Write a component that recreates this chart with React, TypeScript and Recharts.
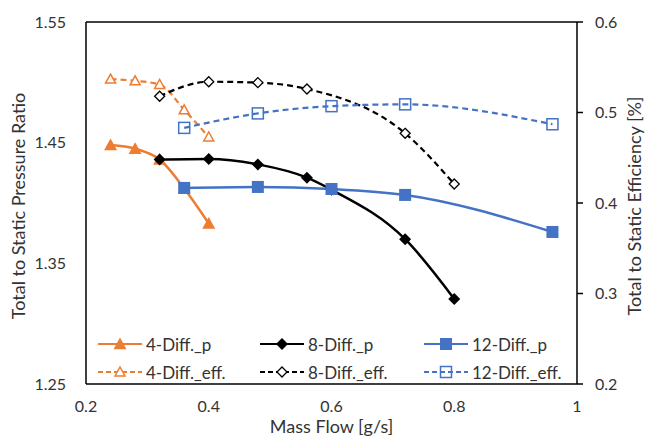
import React from 'react';
import { LineChart, Line, XAxis, YAxis, ReferenceLine, Label } from 'recharts';

// mass flow [g/s]
const flow4 = [0.24, 0.28, 0.32, 0.36, 0.4];
const flow8p = [0.32, 0.4, 0.48, 0.56, 0.6, 0.72, 0.8];
const flow8eff = [0.32, 0.4, 0.48, 0.56, 0.72, 0.8];
const flow12 = [0.36, 0.48, 0.6, 0.72, 0.96];

// total to static pressure ratio
const p4 = [1.448, 1.445, 1.436, 1.412, 1.383];
const p8 = [1.436, 1.4365, 1.432, 1.421, 1.411, 1.37, 1.3205];
const p12 = [1.4125, 1.4133, 1.4116, 1.4067, 1.376];

// total to static efficiency
const eff4 = [0.537, 0.535, 0.531, 0.503, 0.473];
const eff8 = [0.518, 0.534, 0.533, 0.526, 0.477, 0.421];
const eff12 = [0.483, 0.499, 0.507, 0.509, 0.487];

const xTicks = [0.2, 0.4, 0.6, 0.8, 1];
const leftTicks = [1.25, 1.35, 1.45, 1.55];
const rightTicks = [0.2, 0.3, 0.4, 0.5, 0.6];

const ORANGE = '#ED7D31';
const BLACK = '#000000';
const BLUE = '#4472C4';
const TEXT = '#333333';
const FONT = 'Lato, "Open Sans", sans-serif';

const rows = (xs: number[], ys: number[]) => xs.map((x, i) => ({ x, y: ys[i] }));

type Shape = 'tri' | 'diamond' | 'square';

const Marker = ({ shape, filled, color, cx, cy }: { shape: Shape; filled: boolean; color: string; cx: number; cy: number }) => {
  const fill = filled ? color : shape === 'square' ? 'none' : '#ffffff';
  const sw = filled ? 0 : 1.5;
  if (shape === 'tri') {
    const r = filled ? 6.5 : 5;
    return (
      <polygon
        points={`${cx},${cy - r} ${cx - r},${cy + r * 0.8} ${cx + r},${cy + r * 0.8}`}
        fill={fill}
        stroke={color}
        strokeWidth={sw}
      />
    );
  }
  if (shape === 'diamond') {
    const r = filled ? 6 : 5;
    return (
      <polygon
        points={`${cx},${cy - r} ${cx + r},${cy} ${cx},${cy + r} ${cx - r},${cy}`}
        fill={fill}
        stroke={color}
        strokeWidth={filled ? 0 : 1.3}
      />
    );
  }
  const s = filled ? 12 : 11;
  return <rect x={cx - s / 2} y={cy - s / 2} width={s} height={s} fill={fill} stroke={color} strokeWidth={sw} />;
};

const dotFor = (shape: Shape, filled: boolean, color: string) => (props: any) => (
  <Marker key={`${shape}-${filled}-${props.index}`} shape={shape} filled={filled} color={color} cx={props.cx} cy={props.cy} />
);

const series = [
  { name: '4-Diff._p', color: ORANGE, shape: 'tri' as Shape, filled: true },
  { name: '8-Diff._p', color: BLACK, shape: 'diamond' as Shape, filled: true },
  { name: '12-Diff._p', color: BLUE, shape: 'square' as Shape, filled: true },
  { name: '4-Diff._eff.', color: ORANGE, shape: 'tri' as Shape, filled: false },
  { name: '8-Diff._eff.', color: BLACK, shape: 'diamond' as Shape, filled: false },
  { name: '12-Diff._eff.', color: BLUE, shape: 'square' as Shape, filled: false },
];

const DASH = '6 4';

const ChartLegend = () => (
  <div
    style={{
      position: 'absolute',
      left: 97,
      top: 330,
      display: 'grid',
      gridTemplateColumns: '162px 164px 170px',
      gridAutoRows: '28px',
      fontFamily: FONT,
      fontSize: 17,
      color: TEXT,
    }}
  >
    {series.map((s) => (
      <div key={s.name} style={{ display: 'flex', alignItems: 'center' }}>
        <svg width={46} height={16} style={{ marginRight: 3 }}>
          <line
            x1={1}
            x2={45}
            y1={8}
            y2={8}
            stroke={s.color}
            strokeWidth={2.2}
            strokeDasharray={s.filled ? undefined : '5 3'}
          />
          <Marker shape={s.shape} filled={s.filled} color={s.color} cx={23} cy={8} />
        </svg>
        <span>{s.name}</span>
      </div>
    ))}
  </div>
);

const tickStyle = { fill: TEXT, fontSize: 16, fontFamily: FONT };

const vLabel = (text: string, x: number) => ({ viewBox }: any) => {
  const cy = viewBox.y + viewBox.height / 2 + 3;
  return (
    <text
      x={x}
      y={cy}
      transform={`rotate(-90, ${x}, ${cy})`}
      textAnchor="middle"
      dominantBaseline="central"
      fill={TEXT}
      fontSize={18}
      fontFamily={FONT}
    >
      {text}
    </text>
  );
};

const xLabel = ({ viewBox }: any) => (
  <text
    x={viewBox.x + viewBox.width / 2}
    y={433}
    textAnchor="middle"
    fill={TEXT}
    fontSize={18}
    fontFamily={FONT}
  >
    Mass Flow [g/s]
  </text>
);

export default function App() {
  return (
    <div style={{ position: 'absolute', left: 0, top: 0, width: 646, height: 438, background: '#fff', overflow: 'hidden' }}>
      <LineChart width={646} height={438} margin={{ top: 22, right: 0, left: 0, bottom: 0 }} style={{ fontFamily: FONT }}>
        <XAxis
          dataKey="x"
          type="number"
          domain={[0.2, 1]}
          ticks={xTicks}
          tickFormatter={(v: number) => String(v)}
          height={54}
          tickLine={false}
          tickSize={6}
          tickMargin={11}
          axisLine={{ stroke: BLACK, strokeWidth: 1.5 }}
          tick={tickStyle}
          allowDataOverflow
        >
          <Label content={xLabel} />
        </XAxis>
        <YAxis
          yAxisId="left"
          type="number"
          domain={[1.25, 1.55]}
          ticks={leftTicks}
          tickFormatter={(v: number) => v.toFixed(2)}
          width={86}
          tickLine={false}
          tickSize={6}
          tickMargin={14}
          axisLine={{ stroke: BLACK, strokeWidth: 1.5 }}
          tick={tickStyle}
          allowDataOverflow
        >
          <Label content={vLabel('Total to Static Pressure Ratio', 18)} />
        </YAxis>
        <YAxis
          yAxisId="right"
          orientation="right"
          type="number"
          domain={[0.2, 0.6]}
          ticks={rightTicks}
          tickFormatter={(v: number) => v.toFixed(1)}
          width={69}
          tickLine={{ stroke: BLACK, strokeWidth: 1.5 }}
          tickSize={6}
          tickMargin={12}
          axisLine={{ stroke: BLACK, strokeWidth: 1.5 }}
          tick={tickStyle}
          allowDataOverflow
        >
          <Label content={vLabel('Total to Static Efficiency [%]', 634)} />
        </YAxis>
        <ReferenceLine yAxisId="left" y={1.55} stroke={BLACK} strokeWidth={1.5} />

        <Line yAxisId="left" data={rows(flow4, p4)} dataKey="y" type="monotone" stroke={ORANGE} strokeWidth={2.5} dot={dotFor('tri', true, ORANGE)} isAnimationActive={false} />
        <Line yAxisId="left" data={rows(flow8p, p8)} dataKey="y" type="monotone" stroke={BLACK} strokeWidth={2.5} dot={dotFor('diamond', true, BLACK)} isAnimationActive={false} />
        <Line yAxisId="left" data={rows(flow12, p12)} dataKey="y" type="monotone" stroke={BLUE} strokeWidth={2.5} dot={dotFor('square', true, BLUE)} isAnimationActive={false} />

        <Line yAxisId="right" data={rows(flow4, eff4)} dataKey="y" type="monotone" stroke={ORANGE} strokeWidth={2.2} strokeDasharray={DASH} dot={dotFor('tri', false, ORANGE)} isAnimationActive={false} />
        <Line yAxisId="right" data={rows(flow8eff, eff8)} dataKey="y" type="monotone" stroke={BLACK} strokeWidth={2.2} strokeDasharray={DASH} dot={dotFor('diamond', false, BLACK)} isAnimationActive={false} />
        <Line yAxisId="right" data={rows(flow12, eff12)} dataKey="y" type="monotone" stroke={BLUE} strokeWidth={2.2} strokeDasharray={DASH} dot={dotFor('square', false, BLUE)} isAnimationActive={false} />
      </LineChart>
      <ChartLegend />
    </div>
  );
}
